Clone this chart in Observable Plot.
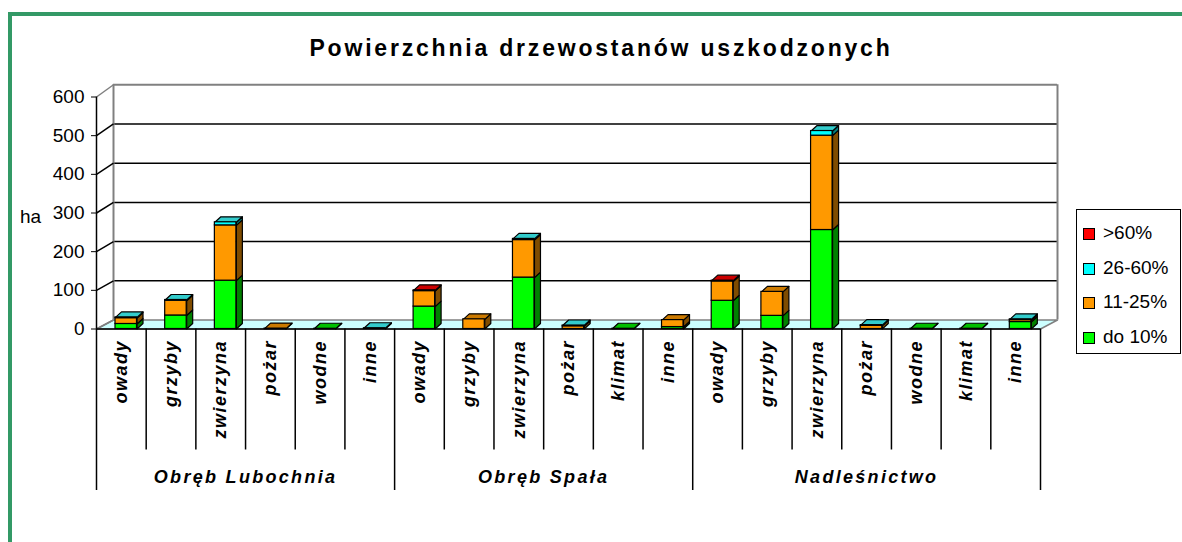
<!DOCTYPE html>
<html>
<head>
<meta charset="utf-8">
<script src="https://cdn.jsdelivr.net/npm/d3@7"></script>
<script src="https://cdn.jsdelivr.net/npm/@observablehq/plot@0.6"></script>
<style>
html, body { margin: 0; padding: 0; background: #fff; width: 1182px; height: 542px; overflow: hidden;
  font-family: "Liberation Sans", Arial, sans-serif; }
#frame { position: absolute; left: 8px; top: 12px; width: 1220px; height: 580px; border: 4px solid #339966; box-sizing: border-box; }
#title { position: absolute; left: 10px; width: 1182px; top: 35px; text-align: center; font-weight: bold;
  font-size: 23px; letter-spacing: 2.8px; color: #000; white-space: nowrap; }
#chart { position: absolute; left: 0; top: 60px; }
#legend { position: absolute; left: 1076px; top: 209px; width: 105px; height: 145px; border: 1px solid #000; box-sizing: border-box; background: #fff; }
.li { position: absolute; left: 0; height: 20px; width: 100px; }
.sw { position: absolute; left: 6px; top: 4px; width: 10px; height: 10px; border: 1px solid #000; }
.lt { position: absolute; left: 26px; top: -1px; font-size: 19px; line-height: 20px; color: #000; white-space: nowrap; }
</style>
</head>
<body>
<div id="frame"></div>
<div id="title">Powierzchnia drzewostanów uszkodzonych</div>
<div id="chart"></div>
<div id="legend"></div>
<script>
// ---- data ----
const groups = ["Obręb Lubochnia", "Obręb Spała", "Nadleśnictwo"];
const categories = ["owady", "grzyby", "zwierzyna", "pożar", "wodne", "inne",
                    "owady", "grzyby", "zwierzyna", "pożar", "klimat", "inne",
                    "owady", "grzyby", "zwierzyna", "pożar", "wodne", "klimat", "inne"];
const categoryGroup = [0, 0, 0, 0, 0, 0, 1, 1, 1, 1, 1, 1, 2, 2, 2, 2, 2, 2, 2];
const series = ["do 10%", "11-25%", "26-60%", ">60%"];
const do10   = [13, 35, 125, 0, 0.6, 0,   58, 0, 133, 0, 0.6, 5,   73, 34, 256, 0, 0.6, 0.6, 18];
const p11_25 = [15, 38, 143, 1, 0, 0,     40, 25, 97, 7, 0, 18,    50, 62, 244, 8, 0, 0, 5];
const p26_60 = [2, 2, 8, 0, 0, 2,         0, 0, 3, 2, 0, 0,        0, 0, 12, 2, 0, 0, 2];
const p60    = [0, 0, 0, 0, 0, 0,         2, 0, 0, 0, 0, 0,        2, 0, 0, 0, 0, 0, 0];
const yTicks = [0, 100, 200, 300, 400, 500, 600];
const frontColors = ["#00ff00", "#ff9900", "#00ffff", "#ff0000"];
const topColors   = ["#00c000", "#cc7a00", "#33cccc", "#cc0000"];
const sideColors  = ["#008000", "#7f4c00", "#008080", "#800000"];

// ---- layout constants (pixels -> data units) ----
const W = 1182, H = 482, mL = 96, mR = 142, mT = 36.5, mB = 213.5;
const CW = (W - mL - mR) / categories.length;       // px per category
const PXY = 600 / (H - mT - mB);                     // data units per px (vertical)
const fx = 17 / CW, fy = 9 * PXY;                    // back-wall depth offset
const persp = 1.014;                                 // back wall slightly taller (perspective)
const back = v => v * persp + fy;
const bdx = 6 / CW, bdy = 5.5 * PXY;                 // bar depth offset
const bx1 = 19 / CW, bx2 = 40.5 / CW;                // bar front face within category

// ---- derived tables ----
const valueSeries = [do10, p11_25, p26_60, p60];
const segs = [], polys = [];
categories.forEach((c, i) => {
  let cum = 0, top = null;
  valueSeries.forEach((arr, s) => {
    const v = arr[i];
    if (!(v > 0)) return;
    const seg = {i, s, y0: cum, y1: cum + v, x1: i + bx1, x2: i + bx2};
    segs.push(seg); cum += v; top = seg;
    const id = "side-" + i + "-" + s, f = sideColors[s];
    polys.push({id, fill: f, x: seg.x2, y: seg.y0},
               {id, fill: f, x: seg.x2 + bdx, y: seg.y0 + bdy},
               {id, fill: f, x: seg.x2 + bdx, y: seg.y1 + bdy},
               {id, fill: f, x: seg.x2, y: seg.y1});
  });
  if (top) {
    const id = "top-" + i, f = topColors[top.s];
    polys.push({id, fill: f, x: top.x1, y: top.y1},
               {id, fill: f, x: top.x2, y: top.y1},
               {id, fill: f, x: top.x2 + bdx, y: top.y1 + bdy},
               {id, fill: f, x: top.x1 + bdx, y: top.y1 + bdy});
  }
});
const n = categories.length;
const floor = [{x: 0, y: 0}, {x: n, y: 0}, {x: n + fx, y: fy}, {x: fx, y: fy}];
const shortSeps = [], longSeps = [0, n];
for (let i = 1; i < n; i++) (categoryGroup[i] === categoryGroup[i - 1] ? shortSeps : longSeps).push(i);
const groupCenter = groups.map((g, gi) => {
  const idx = categoryGroup.map((v, i) => v === gi ? i : -1).filter(i => i >= 0);
  return (idx[0] + idx[idx.length - 1] + 1) / 2;
});

const chart = Plot.plot({
  width: W, height: H,
  marginLeft: mL, marginRight: mR, marginTop: mT, marginBottom: mB,
  style: {fontFamily: "'Liberation Sans', Arial, sans-serif", fontSize: "19px", background: "transparent", overflow: "visible", color: "#000"},
  x: {type: "linear", domain: [0, n], axis: null},
  y: {domain: [0, 600], ticks: 6, tickSize: 5, tickPadding: 7, label: null},
  color: {type: "identity"},
  marks: [
    // floor
    Plot.line(floor, {x: "x", y: "y", curve: "linear-closed", fill: "#ccffff", stroke: "#808080", strokeWidth: 1.5}),
    // back wall grid lines
    Plot.ruleY(yTicks.filter(d => d > 0 && d < 600), {y: back, x1: fx, x2: n + fx, stroke: "#000", strokeWidth: 1.5}),
    Plot.ruleY([600], {y: back, x1: fx, x2: n + fx, stroke: "#808080", strokeWidth: 2}),
    Plot.ruleX([fx, n + fx], {x: d => d, y1: fy, y2: back(600), stroke: "#808080", strokeWidth: 2}),
    // side wall diagonals
    Plot.link(yTicks, {x1: 0, y1: d => d, x2: fx, y2: back, stroke: d => (d === 600 || d === 0) ? "#808080" : "#000", strokeWidth: 1.5}),
    // front axis + baseline
    Plot.ruleX([0], {y1: 0, y2: 600, stroke: "#000", strokeWidth: 1.5}),
    Plot.ruleY([0], {x1: 0, x2: n, stroke: "#000", strokeWidth: 1.5}),
    // 3D bars
    Plot.line(polys, {x: "x", y: "y", z: "id", fill: "fill", stroke: "#000", strokeWidth: 1.2, curve: "linear-closed", strokeLinejoin: "round"}),
    Plot.rect(segs, {x1: "x1", x2: "x2", y1: "y0", y2: "y1", fill: d => frontColors[d.s], stroke: "#000", strokeWidth: 1.2}),
    // category table
    Plot.ruleX(shortSeps, {x: d => d, y1: 0, y2: -121 * PXY, stroke: "#000", strokeWidth: 1.5}),
    Plot.ruleX(longSeps, {x: d => d, y1: 0, y2: -161.5 * PXY, stroke: "#000", strokeWidth: 1.5}),
    Plot.text(categories, {x: (d, i) => i + 0.5, y: 0, dy: 11, rotate: -90, textAnchor: "end",
      fontSize: 18, fontWeight: "bold", fontStyle: "italic", fill: "#000"}),
    Plot.text(groups, {x: (d, i) => groupCenter[i], y: 0, dy: 148.5, fontSize: 18, fontWeight: "bold",
      fontStyle: "italic", fill: "#000"}),
    // y axis unit
    Plot.text(["ha"], {x: 0, y: 291, dx: -66, fontSize: 19, fill: "#000"})
  ]
});
document.getElementById("chart").appendChild(chart);

// Excel-like wide letter spacing on the category table labels
d3.select(chart).selectAll("text").each(function () {
  const t = this.textContent;
  if (categories.includes(t)) d3.select(this).style("letter-spacing", "1.5px");
  else if (groups.includes(t)) d3.select(this).style("letter-spacing", "2.3px");
});

// legend (top to bottom: reversed series)
const legend = document.getElementById("legend");
const order = [3, 2, 1, 0];
order.forEach((s, k) => {
  const item = document.createElement("div");
  item.className = "li";
  item.style.top = (14 + k * 34.5) + "px";
  item.innerHTML = '<div class="sw" style="background:' + frontColors[s] + '"></div><div class="lt">' + series[s] + '</div>';
  legend.appendChild(item);
});
</script>
</body>
</html>
